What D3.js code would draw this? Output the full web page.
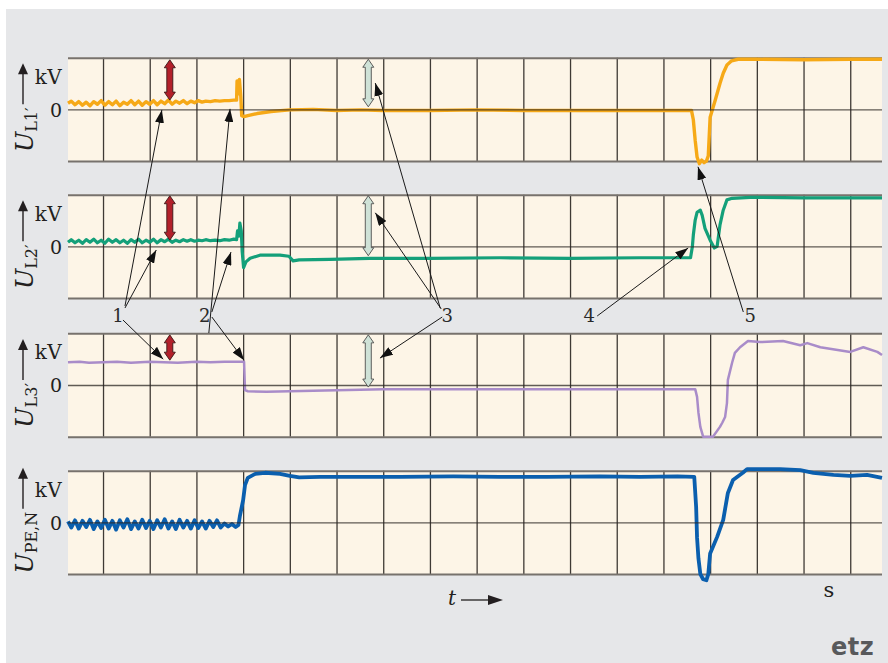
<!DOCTYPE html>
<html>
<head>
<meta charset="utf-8">
<script src="https://cdn.jsdelivr.net/npm/d3@7"></script>
<style>
  html, body { margin: 0; padding: 0; background: #ffffff; }
  svg { display: block; }
</style>
</head>
<body>
<script>
// Time axis in grid divisions (grid line every division, unit s)
const timeDomain = [-0.75, 16.68];
const gridTicks = [0, 1, 2, 3, 4, 5, 6, 7, 8, 9, 10, 11, 12, 13, 14, 15, 16];
const voltTicks = [-1, 0, 1];

// Channel names (subscript of U) and trace colours
const channels = ["L1′", "L2′", "L3′", "PE,N"];
const traceColors = ["#f6a917", "#14a07a", "#a98cc9", "#0b5fae"];
const traceWidths = [3.4, 3.2, 2.5, 3.8];

// Recorded voltage traces, [t, value] with value in divisions (±1 = panel edge)
const traceL1 = [
  [-0.75,0.12],[-0.68,0.16],[-0.60,0.09],[-0.52,0.15],[-0.44,0.08],[-0.36,0.14],[-0.28,0.07],[-0.20,0.15],
  [-0.12,0.10],[-0.04,0.17],[0.04,0.08],[0.12,0.15],[0.20,0.09],[0.28,0.16],[0.36,0.07],[0.44,0.14],
  [0.52,0.10],[0.60,0.17],[0.68,0.09],[0.76,0.16],[0.84,0.08],[0.92,0.15],[1.00,0.10],[1.08,0.17],
  [1.16,0.09],[1.24,0.16],[1.32,0.11],[1.40,0.18],[1.48,0.10],[1.56,0.16],[1.64,0.12],[1.72,0.17],
  [1.80,0.11],[1.88,0.16],[1.96,0.13],[2.04,0.17],[2.12,0.14],[2.20,0.16],[2.30,0.15],[2.40,0.17],
  [2.50,0.16],[2.60,0.17],[2.70,0.17],[2.80,0.18],[2.86,0.18],[2.87,0.55],[2.90,0.30],[2.92,0.58],
  [2.95,0.25],[2.97,-0.12],[3.02,-0.14],[3.10,-0.12],[3.30,-0.08],[3.60,-0.04],[4.00,-0.01],[4.50,0.00],
  [5.00,-0.02],[5.50,-0.01],[6.00,-0.02],[7.00,-0.02],[8.00,-0.01],[9.00,-0.02],[10.00,-0.02],[11.00,-0.02],
  [12.00,-0.02],[12.60,-0.02],[12.64,-0.20],[12.68,-0.60],[12.72,-0.92],[12.77,-1.05],[12.82,-0.98],
  [12.87,-1.03],[12.92,-1.00],[12.96,-0.90],[13.00,-0.15],[13.11,0.18],[13.21,0.50],[13.28,0.70],
  [13.36,0.86],[13.46,0.94],[13.60,0.97],[14.00,0.97],[15.00,0.96],[16.00,0.97],[16.68,0.97]
];
const traceL2 = [
  [-0.75,0.08],[-0.68,0.13],[-0.60,0.07],[-0.52,0.12],[-0.44,0.06],[-0.36,0.13],[-0.28,0.08],[-0.20,0.14],
  [-0.12,0.07],[-0.04,0.12],[0.04,0.06],[0.12,0.14],[0.20,0.08],[0.28,0.13],[0.36,0.07],[0.44,0.12],
  [0.52,0.06],[0.60,0.13],[0.68,0.08],[0.76,0.14],[0.84,0.07],[0.92,0.12],[1.00,0.08],[1.08,0.14],
  [1.16,0.07],[1.24,0.13],[1.32,0.09],[1.40,0.14],[1.48,0.08],[1.56,0.12],[1.64,0.09],[1.72,0.13],
  [1.80,0.10],[1.88,0.13],[1.96,0.10],[2.04,0.12],[2.12,0.11],[2.20,0.13],[2.30,0.11],[2.40,0.12],
  [2.50,0.11],[2.60,0.13],[2.70,0.12],[2.80,0.14],[2.86,0.13],[2.88,0.30],[2.91,0.20],[2.93,0.45],
  [2.96,0.30],[2.98,-0.10],[3.01,-0.41],[3.06,-0.30],[3.15,-0.23],[3.36,-0.17],[3.79,-0.17],[3.98,-0.19],
  [4.07,-0.28],[4.20,-0.26],[4.86,-0.25],[5.70,-0.23],[7.00,-0.23],[8.50,-0.22],[10.00,-0.23],[11.50,-0.22],
  [12.58,-0.22],[12.62,0.00],[12.64,0.22],[12.68,0.51],[12.72,0.66],[12.79,0.70],[12.83,0.60],[12.89,0.35],
  [13.00,0.12],[13.09,-0.03],[13.15,0.00],[13.21,0.41],[13.28,0.70],[13.36,0.90],[13.47,0.93],[13.86,0.95],
  [15.00,0.94],[16.68,0.94]
];
const traceL3 = [
  [-0.75,0.44],[-0.50,0.45],[-0.30,0.43],[0.00,0.44],[0.30,0.45],[0.60,0.43],[1.00,0.45],[1.30,0.44],
  [1.60,0.43],[2.00,0.45],[2.30,0.44],[2.60,0.45],[3.02,0.45],[3.04,-0.10],[3.10,-0.12],[3.50,-0.13],
  [4.00,-0.12],[5.00,-0.10],[6.00,-0.08],[8.00,-0.08],[10.00,-0.08],[12.00,-0.08],[12.68,-0.08],
  [12.72,-0.23],[12.75,-0.54],[12.79,-0.81],[12.85,-1.00],[13.06,-1.00],[13.21,-0.81],[13.26,-0.73],
  [13.32,-0.62],[13.36,-0.35],[13.38,0.10],[13.47,0.43],[13.53,0.62],[13.64,0.73],[13.81,0.85],
  [14.07,0.83],[14.56,0.85],[14.93,0.77],[15.08,0.81],[15.36,0.73],[16.00,0.64],[16.28,0.73],
  [16.58,0.64],[16.68,0.58]
];
const tracePEN = [
  [-0.75,0.02],[-0.68,-0.10],[-0.60,0.04],[-0.52,-0.12],[-0.44,0.03],[-0.36,-0.09],[-0.28,0.05],[-0.20,-0.13],
  [-0.12,0.02],[-0.04,-0.11],[0.04,0.05],[0.12,-0.12],[0.20,0.03],[0.28,-0.14],[0.36,0.04],[0.44,-0.10],
  [0.52,0.06],[0.60,-0.13],[0.68,0.02],[0.76,-0.12],[0.84,0.05],[0.92,-0.11],[1.00,0.03],[1.08,-0.13],
  [1.16,0.04],[1.24,-0.10],[1.32,0.06],[1.40,-0.12],[1.48,0.02],[1.56,-0.13],[1.64,0.05],[1.72,-0.10],
  [1.80,0.03],[1.88,-0.12],[1.96,0.04],[2.04,-0.11],[2.12,0.02],[2.20,-0.12],[2.28,0.03],[2.36,-0.09],
  [2.44,0.04],[2.52,-0.10],[2.60,-0.02],[2.68,-0.08],[2.76,-0.03],[2.84,-0.09],[2.90,-0.05],[2.93,0.12],
  [3.00,0.43],[3.04,0.72],[3.10,0.86],[3.26,0.94],[3.47,0.96],[3.79,0.94],[4.00,0.90],[4.20,0.87],
  [4.65,0.88],[5.50,0.88],[6.36,0.88],[7.50,0.89],[8.50,0.88],[9.50,0.88],[10.64,0.89],[11.50,0.88],
  [12.30,0.89],[12.66,0.88],[12.70,0.30],[12.72,-0.30],[12.75,-0.70],[12.79,-1.00],[12.85,-1.10],
  [12.92,-1.12],[12.96,-1.00],[13.00,-0.60],[13.15,-0.28],[13.28,0.05],[13.38,0.57],[13.49,0.82],
  [13.70,0.96],[13.79,1.03],[14.50,1.03],[14.93,1.01],[15.21,0.96],[15.64,0.92],[16.00,0.90],
  [16.36,0.92],[16.68,0.86]
];
const traces = [traceL1, traceL2, traceL3, tracePEN];

// Double arrows: level before the event (red) and after the step (pale)
const levelArrows = [
  { panel: 0, t: 1.43, from: 0.96, to: 0.18, kind: "before" },
  { panel: 1, t: 1.43, from: 0.98, to: 0.12, kind: "before" },
  { panel: 2, t: 1.43, from: 0.97, to: 0.48, kind: "before" },
  { panel: 0, t: 5.68, from: 0.97, to: 0.05, kind: "after" },
  { panel: 1, t: 5.68, from: 0.98, to: -0.18, kind: "after" },
  { panel: 2, t: 5.68, from: 0.97, to: -0.04, kind: "after" }
];

// Numbered callouts: label position in time units, pointer targets in data units
const callouts = [
  { label: "1", t: 0.32, targets: [
      { panel: 0, t: 1.26, v: -0.01, tail: [7, -16] },
      { panel: 1, t: 1.14, v: -0.07, tail: [7, -14] },
      { panel: 2, t: 1.29, v: 0.50, tail: [5, -2] } ] },
  { label: "2", t: 2.18, targets: [
      { panel: 0, t: 2.72, v: 0.01, tail: [4, 11] },
      { panel: 1, t: 2.74, v: -0.11, tail: [7, -10] },
      { panel: 2, t: 3.02, v: 0.48, tail: [7, -5] } ] },
  { label: "3", t: 7.37, targets: [
      { panel: 0, t: 5.83, v: 0.51, tail: [-7, -14] },
      { panel: 1, t: 5.83, v: 0.65, tail: [-6, -13] },
      { panel: 2, t: 5.93, v: 0.52, tail: [-5, -5] } ] },
  { label: "4", t: 10.41, targets: [
      { panel: 1, t: 12.53, v: -0.03, tail: [8, -6] } ] },
  { label: "5", t: 13.86, targets: [
      { panel: 0, t: 12.74, v: -1.11, tail: [-7, -10] } ] }
];

// ---- layout ----
const W = 888, H = 663;
const panelTops = [57.7, 194.7, 333.3, 470.7];
const panelH = 103.4;
const serif = "'DejaVu Serif', 'Liberation Serif', serif";
const ink = "#231f20";

const svg = d3.select("body").append("svg")
  .attr("width", W).attr("height", H);

const defs = svg.append("defs");
defs.append("marker").attr("id", "head")
  .attr("viewBox", "0 0 13 9").attr("refX", 13).attr("refY", 4.5)
  .attr("markerWidth", 13).attr("markerHeight", 9)
  .attr("markerUnits", "userSpaceOnUse").attr("orient", "auto")
  .append("path").attr("d", "M0,0 L13,4.5 L0,9 Z").attr("fill", "#111");

// page background
svg.append("rect").attr("x", 6).attr("y", 9).attr("width", W - 6).attr("height", H - 9)
  .attr("fill", "#e6e7e9");

const x = d3.scaleLinear().domain(timeDomain).range([68, 882]);
const yScales = panelTops.map(top =>
  d3.scaleLinear().domain([-1, 1]).range([top + panelH, top]));

const panels = svg.selectAll("g.panel").data(channels).join("g").attr("class", "panel");

panels.each(function (name, i) {
  const g = d3.select(this);
  const y = yScales[i];
  const top = panelTops[i];

  g.append("rect").attr("x", x.range()[0]).attr("y", top)
    .attr("width", x.range()[1] - x.range()[0]).attr("height", panelH)
    .attr("fill", "#fdf5e7");

  // vertical grid from the time axis
  const vg = g.append("g").attr("transform", `translate(0,${top})`)
    .call(d3.axisBottom(x).tickValues(gridTicks).tickSize(panelH).tickFormat(""));
  vg.select(".domain").remove();
  vg.selectAll(".tick line").attr("stroke", "#3f3a35").attr("stroke-width", 1.3);

  // top and bottom edges
  const hg = g.append("g").attr("transform", `translate(${x.range()[0]},0)`)
    .call(d3.axisLeft(y).tickValues([-1, 1]).tickSize(-(x.range()[1] - x.range()[0])).tickFormat(""));
  hg.select(".domain").remove();
  hg.selectAll(".tick line").attr("stroke", "#77726d").attr("stroke-width", 2);

  // trace
  const line = d3.line().x(d => x(d[0])).y(d => y(d[1]));
  g.append("path").datum(traces[i]).attr("d", line)
    .attr("fill", "none").attr("stroke", traceColors[i])
    .attr("stroke-width", traceWidths[i])
    .attr("stroke-linejoin", "round").attr("stroke-linecap", "butt");

  // zero line with its label
  const zg = g.append("g").attr("transform", `translate(${x.range()[0]},0)`)
    .call(d3.axisLeft(y).tickValues([0]).tickSize(-(x.range()[1] - x.range()[0]))
      .tickPadding(6).tickFormat(d3.format("d")));
  zg.select(".domain").remove();
  zg.selectAll(".tick line").attr("stroke", "#2b2724").attr("stroke-width", 1.4)
    .attr("stroke-opacity", 0.75);
  zg.selectAll(".tick text").attr("font-family", serif).attr("font-size", 19)
    .attr("fill", ink).attr("dy", "0.36em");

  // unit
  g.append("text").attr("x", 62).attr("y", top + 26).attr("text-anchor", "end")
    .attr("font-family", serif).attr("font-size", 20).attr("fill", ink)
    .attr("letter-spacing", 0.3).text("kV");

  // rotated quantity label with an upward arrow
  const lab = g.append("text").attr("font-family", serif).attr("fill", ink);
  lab.append("tspan").attr("font-size", 24).attr("font-style", "italic").text("U");
  lab.append("tspan").attr("font-size", 16).attr("dy", 4).text(name);
  const len = lab.node().getComputedTextLength();
  const total = 44 + len;
  const center = top + 50;
  const tipY = center - total / 2;
  const startY = center + total / 2;
  lab.attr("transform", `translate(33,${startY}) rotate(-90)`);

  g.append("line").attr("x1", 23).attr("x2", 23).attr("y1", tipY + 9).attr("y2", tipY + 41)
    .attr("stroke", ink).attr("stroke-width", 1.4);
  g.append("path")
    .attr("d", `M23,${tipY} L28,${tipY + 11} L18,${tipY + 11} Z`).attr("fill", ink);
});

// double-headed level arrows
function doubleArrow(cx, y0, y1) {
  const hw = 3, hh = 5.5, hl = 8;
  return `M${cx},${y0} L${cx + hh},${y0 + hl} L${cx + hw},${y0 + hl} L${cx + hw},${y1 - hl}` +
    ` L${cx + hh},${y1 - hl} L${cx},${y1} L${cx - hh},${y1 - hl} L${cx - hw},${y1 - hl}` +
    ` L${cx - hw},${y0 + hl} L${cx - hh},${y0 + hl} Z`;
}
svg.append("g").selectAll("path").data(levelArrows).join("path")
  .attr("d", d => doubleArrow(x(d.t), yScales[d.panel](d.from), yScales[d.panel](d.to)))
  .attr("fill", d => d.kind === "before" ? "#b3202a" : "#cfe2d7")
  .attr("stroke", d => d.kind === "before" ? "#3a1717" : "#4d4d4d")
  .attr("stroke-width", 0.9);

// numbered callouts
const calloutY = 322;
const cg = svg.append("g");
callouts.forEach(c => {
  const lx = x(c.t);
  c.targets.forEach(tg => {
    cg.append("line")
      .attr("x1", lx + tg.tail[0]).attr("y1", calloutY + tg.tail[1])
      .attr("x2", x(tg.t)).attr("y2", yScales[tg.panel](tg.v))
      .attr("stroke", "#1a1a1a").attr("stroke-width", 1)
      .attr("marker-end", "url(#head)");
  });
  cg.append("text").attr("x", lx).attr("y", calloutY).attr("text-anchor", "middle")
    .attr("font-family", serif).attr("font-size", 18).attr("fill", "#2a2a2a").text(c.label);
});

// time axis label
svg.append("text").attr("x", 452).attr("y", 605).attr("text-anchor", "middle")
  .attr("font-family", serif).attr("font-style", "italic").attr("font-size", 20)
  .attr("fill", ink).text("t");
svg.append("line").attr("x1", 461).attr("x2", 490).attr("y1", 600).attr("y2", 600)
  .attr("stroke", ink).attr("stroke-width", 1.3);
svg.append("path").attr("d", "M503,600 L488,595 L488,605 Z").attr("fill", ink);
svg.append("text").attr("x", 829).attr("y", 597).attr("text-anchor", "middle")
  .attr("font-family", serif).attr("font-size", 21).attr("fill", ink).text("s");

// publisher mark
svg.append("text").attr("x", 831).attr("y", 655)
  .attr("font-family", "'DejaVu Sans', sans-serif").attr("font-weight", "bold")
  .attr("font-size", 24).attr("letter-spacing", 0.5).attr("fill", "#58595b").text("etz");
</script>
</body>
</html>
